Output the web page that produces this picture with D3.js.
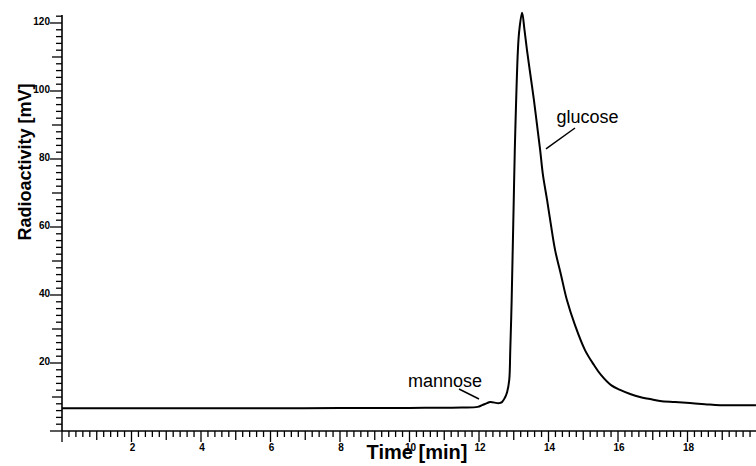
<!DOCTYPE html>
<html>
<head>
<meta charset="utf-8">
<script src="https://cdn.jsdelivr.net/npm/d3@7/dist/d3.min.js"></script>
<style>
  html, body { margin: 0; padding: 0; background: #fff; }
  svg { display: block; font-family: "Liberation Sans", Arial, sans-serif; }
</style>
</head>
<body>
<svg id="chart" width="756" height="466"></svg>
<script>
// ---- data ----
const timeMin = [0, 2, 4, 6, 8, 10, 11.5, 11.96, 12.09, 12.23, 12.32, 12.58, 12.66, 12.74, 12.81, 12.87, 12.90, 12.94, 12.97, 13.00, 13.03, 13.12, 13.16, 13.24,
  13.31, 13.38, 13.48, 13.58, 13.67, 13.76, 13.84, 13.96, 14.07, 14.19, 14.36, 14.53, 14.76, 15.05, 15.31, 15.51, 15.80, 16.06, 16.35, 16.63, 16.92, 17.21, 17.64, 18.07, 18.50, 18.94, 19.97];
const radioactivity = [6.7, 6.7, 6.7, 6.7, 6.75, 6.8, 6.9, 7.1, 7.6, 8.2, 8.5, 8.2, 8.5, 9.7, 11.5, 15.0, 23.8, 38.5, 53.2, 67.9, 82.6, 112.1, 117.9, 123,
  117.9, 112.1, 104.7, 97.4, 90.0, 82.6, 75.3, 67.9, 60.6, 53.2, 45.9, 38.5, 31.2, 23.8, 19.4, 16.5, 13.5, 12.1, 10.9, 10.0, 9.4, 8.8, 8.5, 8.2, 7.9, 7.6, 7.6];
const xTickLabels = [2, 4, 6, 8, 10, 12, 14, 16, 18];
const yTickLabels = [20, 40, 60, 80, 100, 120];
const xTitle = "Time [min]";
const yTitle = "Radioactivity [mV]";
const annotations = [
  { text: "glucose", t: 13.87, v: 83.0 },
  { text: "mannose", t: 12.5, v: 9.2 }
];

// ---- layout ----
const svg = d3.select("#chart");
const padL = 62, padR = 757, padT = 15, padB = 431;
const x = d3.scaleLinear().domain([0, 20]).range([padL, padR]);
const y = d3.scaleLinear().domain([0, 122.35]).range([padB, padT]);

// x axis
const xMinor = d3.range(0, 100.5, 1).map(i => i / 5).filter(v => v <= 20);
const xg = svg.append("g");
xg.append("line").attr("x1", padL).attr("x2", 756).attr("y1", padB).attr("y2", padB)
  .attr("stroke", "#000").attr("stroke-width", 1.6);
xg.selectAll("line.tick").data(xMinor).enter().append("line")
  .attr("x1", d => x(d)).attr("x2", d => x(d))
  .attr("y1", padB)
  .attr("y2", d => {
    const r = Math.round(d * 5);
    if (r % 10 === 0) return padB + 11;
    if (r % 5 === 0) return padB + 9;
    return padB + 6;
  })
  .attr("stroke", "#000").attr("stroke-width", 1.3);
xg.selectAll("text").data(xTickLabels).enter().append("text")
  .attr("x", d => x(d) + 1).attr("y", padB + 20)
  .attr("text-anchor", "middle")
  .attr("font-size", 10).attr("font-weight", "bold")
  .text(d => d);

// y axis
const yMinor = d3.range(0, 123, 2);
const yg = svg.append("g");
yg.append("line").attr("x1", padL).attr("x2", padL).attr("y1", padT).attr("y2", padB)
  .attr("stroke", "#000").attr("stroke-width", 1.6);
yg.selectAll("line.tick").data(yMinor).enter().append("line")
  .attr("y1", d => y(d)).attr("y2", d => y(d))
  .attr("x1", padL)
  .attr("x2", d => (d % 20 === 0 ? padL - 12 : (d % 10 === 0 ? padL - 10 : padL - 6)))
  .attr("stroke", "#000").attr("stroke-width", 1.3);
yg.selectAll("text").data(yTickLabels).enter().append("text")
  .attr("x", padL - 12).attr("y", d => y(d) + 2)
  .attr("text-anchor", "end")
  .attr("font-size", 10).attr("font-weight", "bold")
  .text(d => d);

// curve
const line = d3.line()
  .x((d, i) => x(timeMin[i]))
  .y((d, i) => y(radioactivity[i]))
  .curve(d3.curveCatmullRom.alpha(0.5));
svg.append("path").datum(radioactivity)
  .attr("d", line)
  .attr("fill", "none").attr("stroke", "#000").attr("stroke-width", 2)
  .attr("stroke-linejoin", "round");

// annotations
const g = annotations[0], m = annotations[1];
svg.append("text").attr("x", x(13.8) + 15).attr("y", 123)
  .attr("font-size", 18).text(g.text);
svg.append("line")
  .attr("x1", x(g.t) + 31).attr("y1", 128)
  .attr("x2", x(g.t) + 2).attr("y2", y(g.v))
  .attr("stroke", "#000").attr("stroke-width", 1.5);
svg.append("text").attr("x", 408).attr("y", 387)
  .attr("font-size", 18).text(m.text);
svg.append("line")
  .attr("x1", 459).attr("y1", 389)
  .attr("x2", x(12.0)).attr("y2", 399)
  .attr("stroke", "#000").attr("stroke-width", 1.5);

// titles
svg.append("text")
  .attr("x", 417).attr("y", 459)
  .attr("text-anchor", "middle")
  .attr("font-size", 20).attr("font-weight", "bold")
  .text(xTitle);
svg.append("text")
  .attr("transform", "translate(31,162) rotate(-90)")
  .attr("text-anchor", "middle")
  .attr("font-size", 18).attr("font-weight", "bold")
  .text(yTitle);
</script>
</body>
</html>
